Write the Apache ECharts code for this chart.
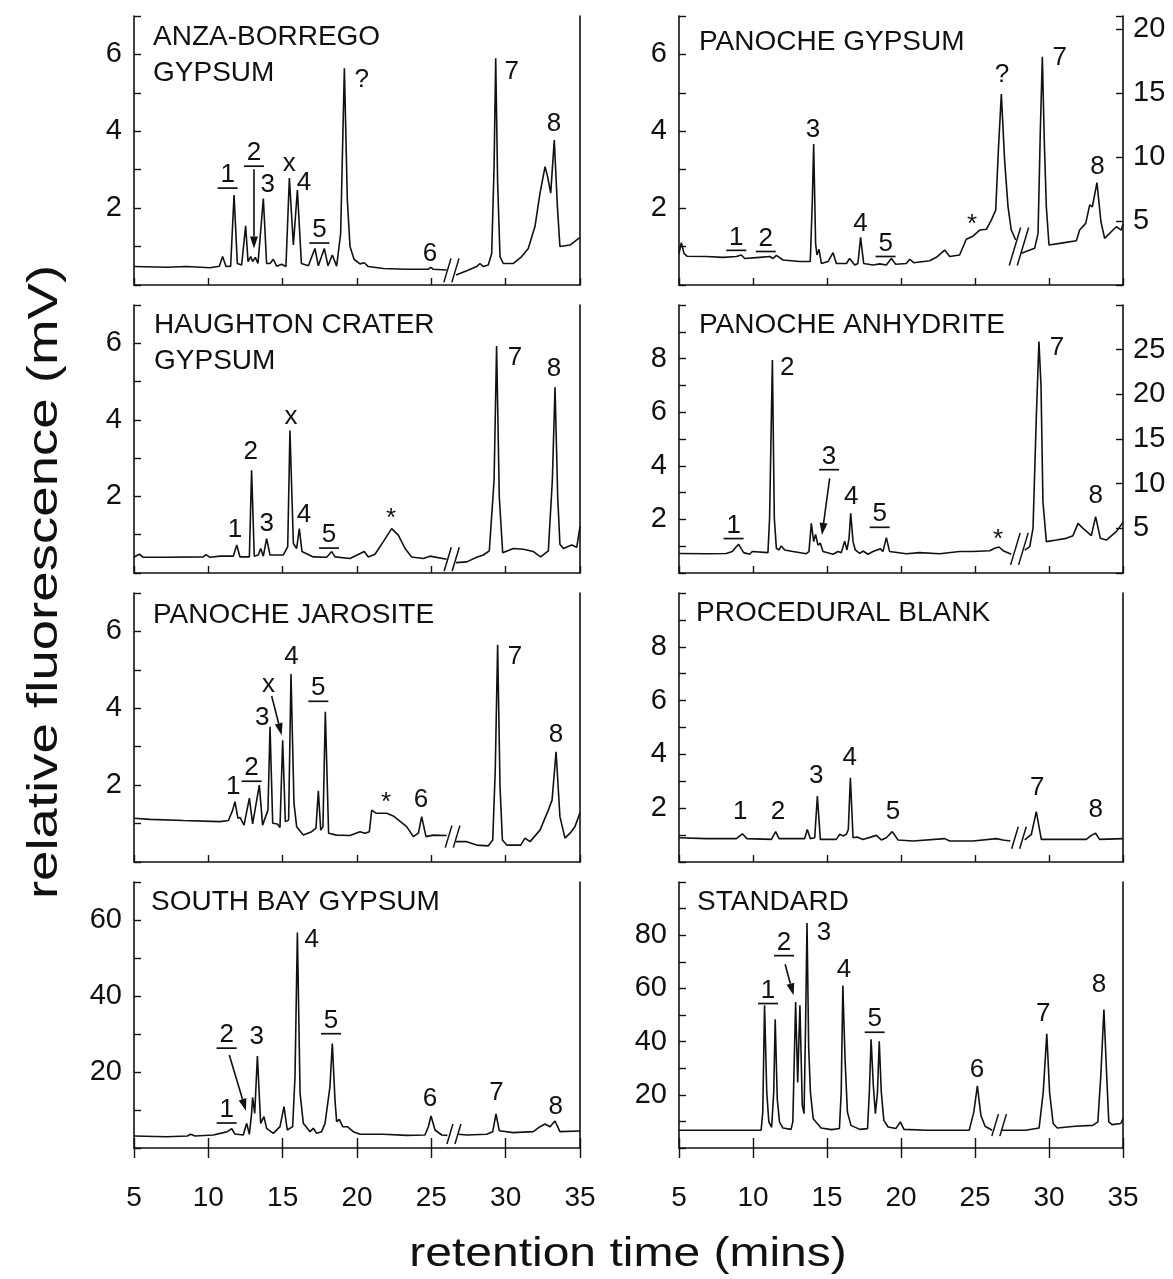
<!DOCTYPE html>
<html>
<head>
    <meta charset="utf-8">
    <title>Chromatograms</title>
    <script src="https://cdn.jsdelivr.net/npm/echarts@6/dist/echarts.min.js"></script>
    <style>
        html, body { margin: 0; padding: 0; background: #fff; }
    </style>
</head>
<body>
    <div id="main" style="width: 1173px;height:1279px;"></div>
    <script type="text/javascript">
        // traces: [retention time (min), signal]
        // the part after the // break is kept in its own array
        var anzaPre = [[5.00,0.48],[7.20,0.46],[8.54,0.48],[10.11,0.45],[10.74,0.49],[10.96,0.74],[11.19,0.48],[11.50,0.49],[11.73,2.34],[11.95,0.56],[12.24,0.52],[12.51,1.54],[12.67,0.61],[12.85,0.74],[12.98,0.61],[13.16,0.72],[13.34,0.56],[13.70,2.25],[13.92,0.56],[14.15,0.56],[14.37,0.67],[14.60,0.49],[14.93,0.54],[15.22,0.48],[15.45,2.78],[15.72,1.04],[15.99,2.47],[16.26,0.56],[16.73,0.50],[17.17,0.95],[17.40,0.50],[17.80,0.95],[18.05,0.50],[18.34,0.78],[18.63,0.49],[18.90,1.34],[19.15,5.64],[19.35,2.21],[19.53,1.00],[19.80,0.67],[20.20,0.55],[20.49,0.58],[20.76,0.48],[21.77,0.43],[23.34,0.41],[24.80,0.41],[24.96,0.46],[25.13,0.41],[26.03,0.39]];
        var anzaPost = [[26.66,0.26],[27.38,0.37],[28.05,0.48],[28.27,0.56],[28.50,0.48],[28.83,0.52],[29.06,0.82],[29.22,3.08],[29.33,5.90],[29.46,2.65],[29.62,0.74],[29.84,0.56],[30.52,0.56],[31.08,0.74],[31.52,0.95],[31.97,1.52],[32.31,2.39],[32.65,3.08],[32.82,2.82],[33.03,2.39],[33.27,3.77],[33.48,2.04],[33.65,1.00],[34.33,1.04],[35.00,1.24]];

        var haughtonPre = [[5.00,0.42],[5.36,0.49],[5.63,0.41],[7.20,0.41],[9.66,0.42],[9.84,0.48],[10.11,0.41],[10.78,0.44],[11.68,0.44],[11.91,0.73],[12.13,0.42],[12.76,0.42],[12.91,2.68],[13.09,0.44],[13.36,0.47],[13.52,0.64],[13.70,0.44],[13.92,0.90],[14.15,0.47],[15.04,0.47],[15.34,0.69],[15.49,3.72],[15.72,0.77],[15.94,0.64],[16.12,1.16],[16.30,0.56],[17.06,0.42],[17.96,0.41],[18.30,0.56],[18.52,0.42],[19.53,0.38],[20.49,0.56],[20.76,0.42],[21.21,0.49],[21.77,0.82],[22.33,1.16],[22.78,0.99],[23.23,0.64],[23.68,0.42],[24.46,0.38],[24.91,0.44],[26.03,0.36]];
        var haughtonPost = [[26.66,0.27],[27.38,0.29],[28.05,0.41],[28.50,0.47],[28.90,0.58],[29.22,2.42],[29.39,5.93],[29.57,1.99],[29.80,0.53],[30.52,0.64],[31.19,0.62],[31.86,0.56],[32.35,0.42],[32.87,0.58],[33.14,2.42],[33.32,4.85],[33.50,1.99],[33.65,0.75],[33.88,0.64],[34.44,0.73],[34.78,0.67],[35.00,1.21]];

        var jarositePre = [[5.00,1.14],[6.08,1.11],[8.32,1.08],[10.78,1.05],[11.35,1.08],[11.64,1.35],[11.79,1.57],[11.99,1.14],[12.13,1.16],[12.40,0.96],[12.76,1.66],[12.98,0.99],[13.43,2.00],[13.65,0.96],[14.01,1.35],[14.15,3.52],[14.33,1.01],[14.64,0.99],[14.82,0.90],[15.00,3.17],[15.18,1.05],[15.40,1.09],[15.56,4.89],[15.76,1.53],[15.94,0.92],[16.39,0.70],[16.95,0.79],[17.24,0.88],[17.40,1.85],[17.56,0.83],[17.71,0.92],[17.87,3.91],[18.09,0.75],[18.63,0.70],[19.53,0.69],[20.20,0.79],[20.54,0.75],[20.83,0.79],[20.99,1.35],[21.28,1.27],[22.00,1.27],[22.44,1.20],[23.34,0.92],[23.79,0.66],[24.13,0.75],[24.35,1.18],[24.64,0.66],[25.13,0.70],[26.03,0.69]];
        var jarositePost = [[26.66,0.53],[27.38,0.53],[28.05,0.44],[28.83,0.42],[29.13,0.57],[29.30,2.39],[29.46,5.65],[29.62,1.96],[29.78,0.57],[30.07,0.44],[31.01,0.44],[31.30,0.62],[31.64,0.53],[32.31,0.83],[32.87,1.35],[33.12,1.61],[33.39,2.87],[33.65,1.18],[33.99,0.62],[34.33,0.75],[34.66,0.92],[35.00,1.28]];

        var southBayPre = [[5.00,3.16],[7.20,2.98],[8.59,3.16],[8.81,3.6],[9.10,3.16],[10.34,3.42],[11.01,4.04],[11.28,4.3],[11.57,5.09],[11.79,3.68],[12.35,3.42],[12.58,6.49],[12.76,3.6],[12.91,9.12],[12.98,13.3],[13.12,9.12],[13.30,24.2],[13.52,6.49],[13.74,8.25],[13.92,5.18],[14.37,3.86],[14.82,5.61],[15.09,10.9],[15.31,4.74],[15.67,5.61],[15.83,18.8],[15.99,56.7],[16.17,14.4],[16.39,6.49],[16.84,4.3],[17.06,5.18],[17.29,3.86],[17.62,4.3],[17.85,6.49],[18.18,16.1],[18.34,27.5],[18.52,12.6],[18.63,6.93],[18.81,7.54],[19.04,5.61],[19.35,5.61],[19.75,4.3],[20.20,3.6],[21.77,3.6],[23.34,3.33],[24.57,3.42],[24.80,5.61],[24.98,8.42],[25.25,4.74],[25.70,3.42],[26.08,3.33]];
        var southBayPost = [[26.82,3.6],[27.38,3.42],[28.72,3.6],[29.13,4.3],[29.35,8.95],[29.57,4.56],[30.52,4.04],[31.86,4.3],[32.31,5.61],[32.65,6.32],[32.98,5.61],[33.32,7.11],[33.65,4.3],[35.00,4.47]];

        var panGypsumPre = [[5.00,0.82],[5.16,1.10],[5.34,0.82],[5.54,0.75],[6.85,0.74],[7.97,0.72],[8.87,0.74],[9.21,0.78],[9.44,0.69],[10.45,0.72],[11.13,0.74],[11.35,0.69],[11.58,0.77],[12.03,0.65],[13.15,0.61],[13.87,0.61],[14.01,2.21],[14.10,3.67],[14.23,1.08],[14.32,0.78],[14.46,0.93],[14.62,0.56],[15.07,0.61],[15.41,0.84],[15.63,0.56],[16.31,0.56],[16.53,0.69],[16.87,0.52],[17.09,0.56],[17.27,1.24],[17.48,0.56],[18.11,0.52],[18.56,0.55],[19.01,0.52],[19.35,0.69],[19.64,0.54],[20.36,0.56],[20.59,0.67],[20.86,0.58],[21.94,0.63],[22.39,0.72],[22.95,0.91],[23.29,0.74],[23.96,0.78],[24.41,1.19],[24.86,1.27],[25.32,1.43],[25.77,1.45],[26.10,1.69],[26.40,1.95],[26.58,3.51],[26.78,4.97],[27.00,3.25],[27.23,2.04],[27.45,1.43],[27.75,1.17]];
        // after the break this panel is read on the right-hand scale
        var panGypsumPost = [[28.13,2.47],[29.03,2.86],[29.26,4.03],[29.41,11.84],[29.55,17.82],[29.68,11.32],[29.82,6.11],[30.00,3.12],[30.72,3.25],[31.85,3.46],[32.07,4.29],[32.48,4.81],[32.75,6.25],[32.93,6.11],[33.24,7.99],[33.51,4.94],[33.76,3.64],[34.32,4.29],[34.55,4.55],[34.89,4.29],[35.00,4.76]];

        var anhydritePre = [[5.00,0.73],[6.85,0.72],[8.20,0.73],[8.60,0.80],[8.87,0.98],[9.03,1.07],[9.21,0.90],[9.37,0.76],[9.77,0.70],[9.95,0.80],[11.01,0.76],[11.12,2.04],[11.31,7.95],[11.44,2.04],[11.58,0.92],[11.76,0.86],[11.91,1.01],[12.14,0.86],[12.70,0.80],[13.60,0.72],[13.78,0.80],[13.94,1.85],[14.10,1.17],[14.23,1.44],[14.39,1.04],[14.55,1.11],[14.73,0.80],[15.41,0.70],[15.74,0.80],[15.97,0.76],[16.19,1.19],[16.35,0.86],[16.49,1.29],[16.60,2.23],[16.76,1.17],[16.91,0.86],[17.21,0.73],[17.43,0.82],[17.77,0.70],[18.11,0.80],[18.38,0.86],[18.61,0.90],[18.78,0.80],[19.01,1.32],[19.23,0.80],[20.36,0.72],[21.26,0.76],[22.61,0.72],[23.96,0.80],[24.86,0.80],[25.99,0.83],[26.33,0.92],[26.62,0.97],[26.94,0.82],[27.45,0.70]];
        var anhydritePost = [[28.36,2.57],[28.70,2.95],[28.92,5.0],[29.14,17.3],[29.32,25.9],[29.46,21.0],[29.59,8.0],[29.82,3.51],[30.50,3.69],[31.17,3.88],[31.62,4.18],[31.96,5.56],[32.30,5.0],[32.86,4.18],[33.15,6.31],[33.47,3.88],[33.87,3.69],[34.55,4.63],[35.00,5.67]];

        var blankPre = [[5.00,0.90],[6.85,0.87],[8.87,0.87],[9.28,1.05],[9.59,0.87],[11.24,0.84],[11.53,1.13],[11.76,0.87],[13.49,0.87],[13.67,1.21],[13.87,0.87],[14.17,0.90],[14.35,2.45],[14.55,0.84],[15.63,0.84],[15.86,1.03],[16.08,0.97],[16.31,1.03],[16.44,1.21],[16.58,3.13],[16.76,0.90],[17.03,0.93],[17.43,0.84],[18.33,0.99],[18.67,0.82],[19.01,0.90],[19.41,1.13],[19.80,0.82],[20.81,0.78],[22.95,0.87],[23.29,0.78],[24.86,0.78],[26.44,0.87],[26.89,0.82],[27.39,0.78]];
        var blankPost = [[28.36,0.82],[28.81,1.03],[29.14,1.87],[29.48,0.84],[30.50,0.84],[32.52,0.84],[32.86,0.99],[33.15,1.07],[33.42,0.84],[35.00,0.87]];

        var standardPre = [[5.00,6.7],[8.16,6.7],[10.55,6.7],[10.66,13.5],[10.78,53.7],[10.93,20.9],[11.07,9.8],[11.26,7.8],[11.40,20.9],[11.50,48.4],[11.64,18.4],[11.79,9.8],[12.02,7.5],[12.57,7.0],[12.69,9.8],[12.88,54.9],[13.02,24.6],[13.17,53.7],[13.33,16.0],[13.45,12.9],[13.55,45.6],[13.65,84.6],[13.76,38.2],[13.88,20.9],[14.07,11.0],[14.60,7.5],[15.31,6.9],[15.84,7.3],[15.96,20.9],[16.07,61.1],[16.22,33.3],[16.38,13.5],[16.62,8.5],[17.22,7.0],[17.74,7.3],[17.86,20.9],[17.98,40.9],[18.13,23.4],[18.27,12.9],[18.41,20.9],[18.53,40.1],[18.67,20.9],[18.84,10.4],[19.13,7.9],[19.65,7.3],[19.96,9.8],[20.20,7.0],[21.75,6.7],[24.61,6.7],[24.92,13.5],[25.16,23.4],[25.40,12.2],[25.68,8.2],[26.16,6.7]];
        var standardPost = [[26.75,6.7],[28.42,6.7],[29.33,7.5],[29.61,20.9],[29.85,42.9],[30.04,20.9],[30.28,9.2],[30.56,7.5],[31.76,8.2],[32.95,8.5],[33.30,9.8],[33.50,27.1],[33.71,52.1],[33.90,27.1],[34.04,9.8],[34.26,8.8],[34.85,9.2],[35.00,11.0]];

        // peak labels: [time, signal, text, underlined]
        var anzaLabels = [[11.30,2.86,'1',1],[13.07,3.43,'2',1],[13.99,2.60,'3',0],[15.45,3.15,'x',0],[16.43,2.65,'4',0],[17.47,1.43,'5',1],[20.31,5.33,'?',0],[24.91,0.82,'6',0],[30.40,5.55,'7',0],[33.25,4.20,'8',0]];
        var haughtonLabels = [[11.79,1.12,'1',0],[12.85,3.16,'2',0],[13.92,1.29,'3',0],[15.56,4.08,'x',0],[16.43,1.51,'4',0],[18.12,0.99,'5',1],[22.29,1.42,'*',0],[30.63,5.63,'7',0],[33.25,5.33,'8',0]];
        var jarositeLabels = [[11.68,1.96,'1',0],[12.91,2.44,'2',1],[13.63,3.74,'3',0],[14.04,4.60,'x',0],[15.60,5.34,'4',0],[17.40,4.52,'5',1],[21.95,1.54,'*',0],[24.30,1.61,'6',0],[30.63,5.33,'7',0],[33.39,3.30,'8',0]];
        var southBayLabels = [[11.23,10.0,'1',1],[11.23,29.7,'2',1],[13.25,29.3,'3',0],[16.95,54.7,'4',0],[18.25,33.5,'5',1],[24.91,13.0,'6',0],[29.39,14.4,'7',0],[33.36,10.9,'8',0]];
        var panGypsumLabels = [[8.87,1.24,'1',1],[10.86,1.21,'2',1],[14.05,4.05,'3',0],[17.27,1.59,'4',0],[18.96,1.08,'5',1],[24.80,1.56,'*',0],[26.82,5.46,'?',0],[30.72,5.90,'7',0],[33.27,3.08,'8',0]];
        var anhydriteLabels = [[8.69,1.77,'1',1],[12.32,7.66,'2',0],[15.14,4.34,'3',1],[16.64,2.85,'4',0],[18.56,2.19,'5',1],[26.55,1.23,'*',0],[30.54,8.42,'7',0],[33.15,2.89,'8',0]];
        var blankLabels = [[9.14,1.86,'1',0],[11.69,1.86,'2',0],[14.28,3.22,'3',0],[16.53,3.88,'4',0],[19.46,1.86,'5',0],[29.21,2.76,'7',0],[33.15,1.93,'8',0]];
        var standardLabels = [[11.02,59.2,'1',1],[12.10,77.2,'2',1],[14.79,80.9,'3',0],[16.15,66.9,'4',0],[18.22,48.4,'5',1],[25.13,29.3,'6',0],[29.61,50.6,'7',0],[33.38,61.5,'8',0]];

        // arrows: [from time, from signal, to time, to signal]
        var anzaArrows = [[13.07,3.01,13.07,0.95]];
        var jarositeArrows = [[14.26,4.32,14.93,3.30]];
        var southBayArrows = [[11.41,24.5,12.53,9.8]];
        var anhydriteArrows = [[15.18,3.53,14.66,1.42]];
        var standardArrows = [[12.17,69.1,12.74,57.4]];

        // where the // break sits: [time, signal]
        var breakAt = [[26.35,0.38],[26.37,0.36],[26.43,0.66],[26.52,3.7],[27.97,1.0],[28.0,0.9],[27.97,0.9],[26.63,8.6]];

        var INK = '#111';
        var FONT = '"Liberation Sans", Arial, Helvetica, sans-serif';

        var panels = [
            {box: [134, 16, 446, 269], yMax: 7, yInt: 1, title: 'ANZA-BORREGO\nGYPSUM', tl: [153, 19], pre: anzaPre, post: anzaPost, labels: anzaLabels, arrows: anzaArrows, slash: 24},
            {box: [134, 305, 446, 268], yMax: 7, yInt: 1, title: 'HAUGHTON CRATER\nGYPSUM', tl: [154, 307], pre: haughtonPre, post: haughtonPost, labels: haughtonLabels, arrows: [], slash: 24},
            {box: [134, 593, 446, 269], yMax: 7, yInt: 1, title: 'PANOCHE JAROSITE', tl: [153, 597], pre: jarositePre, post: jarositePost, labels: jarositeLabels, arrows: jarositeArrows, slash: 22},
            {box: [134, 882, 446, 266], yMax: 70, yInt: 10, title: 'SOUTH BAY GYPSUM', tl: [151, 884], pre: southBayPre, post: southBayPost, labels: southBayLabels, arrows: southBayArrows, slash: 20, bottom: true},
            {box: [679, 16, 444, 269], yMax: 7, yInt: 1, rMax: 21, title: 'PANOCHE GYPSUM', tl: [699, 24], pre: panGypsumPre, post: panGypsumPost, labels: panGypsumLabels, arrows: [], slash: 38},
            {box: [679, 305, 444, 268], yMax: 10, yInt: 1, rMax: 30, title: 'PANOCHE ANHYDRITE', tl: [699, 307], pre: anhydritePre, post: anhydritePost, labels: anhydriteLabels, arrows: anhydriteArrows, slash: 32},
            {box: [679, 593, 444, 269], yMax: 10, yInt: 1, title: 'PROCEDURAL BLANK', tl: [696, 595], pre: blankPre, post: blankPost, labels: blankLabels, arrows: [], slash: 22},
            {box: [679, 882, 444, 266], yMax: 100, yInt: 10, title: 'STANDARD', tl: [697, 884], pre: standardPre, post: standardPost, labels: standardLabels, arrows: standardArrows, slash: 22, bottom: true}
        ];

        var myChart = echarts.init(document.getElementById('main'));

        var grids = [], xAxes = [], yAxes = [], series = [], titles = [];
        var axisLine = {show: true, onZero: false, lineStyle: {color: INK, width: 1.6}};

        panels.forEach(function (p, i) {
            grids.push({left: p.box[0], top: p.box[1], width: p.box[2], height: p.box[3]});
            titles.push({
                text: p.title, left: p.tl[0], top: p.tl[1], padding: 0,
                textStyle: {fontSize: 28, fontWeight: 'normal', color: INK, fontFamily: FONT, lineHeight: 36}
            });

            var xi = xAxes.length;
            xAxes.push({
                gridIndex: i, type: 'value', min: 5, max: 35, interval: 5, position: 'bottom',
                axisLine: axisLine,
                axisTick: {inside: !p.bottom, length: p.bottom ? 10 : 7, lineStyle: {color: INK, width: 1.4}},
                axisLabel: {show: !!p.bottom, fontSize: 28, color: INK, fontFamily: FONT, margin: 36},
                splitLine: {show: false}
            });
            if (p.bottom) {
                // second copy only for the inward half of the crossing ticks
                xAxes.push({
                    gridIndex: i, type: 'value', min: 5, max: 35, interval: 5, position: 'bottom',
                    axisLine: {show: false}, axisLabel: {show: false}, splitLine: {show: false},
                    axisTick: {inside: true, length: 10, lineStyle: {color: INK, width: 1.4}}
                });
            }

            var yi = yAxes.length;
            yAxes.push({
                gridIndex: i, type: 'value', min: 0, max: p.yMax, interval: p.yInt, position: 'left',
                axisLine: axisLine,
                axisTick: {inside: true, length: 7, lineStyle: {color: INK, width: 1.4}},
                axisLabel: {
                    fontSize: 29, color: INK, fontFamily: FONT, margin: 12,
                    formatter: function (v) {
                        return (v > 0 && v < p.yMax && v % (2 * p.yInt) === 0) ? String(v) : '';
                    }
                },
                splitLine: {show: false}
            });
            yAxes.push({
                gridIndex: i, type: 'value', min: 0, max: p.rMax || 1, interval: p.rMax ? 5 : 1, position: 'right',
                axisLine: axisLine,
                axisTick: {show: !!p.rMax, inside: true, length: 7, lineStyle: {color: INK, width: 1.4}},
                axisLabel: {
                    show: !!p.rMax, fontSize: 29, color: INK, fontFamily: FONT, margin: 10,
                    formatter: function (v) { return (v > 0 && v < p.rMax) ? String(v) : ''; }
                },
                splitLine: {show: false}
            });

            var trace = {type: 'line', xAxisIndex: xi, showSymbol: false, symbol: 'none', silent: true,
                lineStyle: {color: INK, width: 1.6}};
            series.push(Object.assign({}, trace, {yAxisIndex: yi, data: p.pre}));
            series.push(Object.assign({}, trace, {yAxisIndex: p.rMax ? yi + 1 : yi, data: p.post}));

            // the // break mark
            series.push({
                type: 'custom', coordinateSystem: 'cartesian2d', xAxisIndex: xi, yAxisIndex: yi, silent: true,
                data: [breakAt[i]],
                renderItem: function (params, api) {
                    var c = api.coord([api.value(0), api.value(1)]);
                    var h = p.slash, w = h * 0.3;
                    return {type: 'group', children: [-4, 4].map(function (dx) {
                        return {type: 'line', shape: {x1: c[0] + dx - w / 2, y1: c[1] + h / 2, x2: c[0] + dx + w / 2, y2: c[1] - h / 2},
                            style: {stroke: INK, lineWidth: 1.5}};
                    })};
                }
            });

            // peak labels
            series.push({
                type: 'custom', coordinateSystem: 'cartesian2d', xAxisIndex: xi, yAxisIndex: yi, silent: true,
                data: p.labels.map(function (a) { return [a[0], a[1]]; }),
                renderItem: function (params, api) {
                    var a = p.labels[params.dataIndex];
                    var c = api.coord([a[0], a[1]]);
                    var kids = [{type: 'text', x: c[0], y: c[1],
                        style: {text: a[2], fill: INK, font: '26px ' + FONT, align: 'center', verticalAlign: 'middle'}}];
                    if (a[3]) {
                        kids.push({type: 'line', shape: {x1: c[0] - 10, y1: c[1] + 13, x2: c[0] + 10, y2: c[1] + 13},
                            style: {stroke: INK, lineWidth: 1.7}});
                    }
                    return {type: 'group', children: kids};
                }
            });

            if (p.arrows.length) {
                series.push({
                    type: 'custom', coordinateSystem: 'cartesian2d', xAxisIndex: xi, yAxisIndex: yi, silent: true,
                    encode: {x: [0, 2], y: [1, 3]},
                    data: p.arrows,
                    renderItem: function (params, api) {
                        var a = api.coord([api.value(0), api.value(1)]);
                        var b = api.coord([api.value(2), api.value(3)]);
                        var dx = b[0] - a[0], dy = b[1] - a[1], L = Math.sqrt(dx * dx + dy * dy);
                        var ux = dx / L, uy = dy / L, hl = 12, hw = 4;
                        var bx = b[0] - ux * hl, by = b[1] - uy * hl;
                        return {type: 'group', children: [
                            {type: 'line', shape: {x1: a[0], y1: a[1], x2: bx, y2: by}, style: {stroke: INK, lineWidth: 1.6}},
                            {type: 'polygon', shape: {points: [[b[0], b[1]], [bx - uy * hw, by + ux * hw], [bx + uy * hw, by - ux * hw]]},
                                style: {fill: INK}}
                        ]};
                    }
                });
            }
        });

        myChart.setOption({
            animation: false,
            backgroundColor: '#fff',
            title: titles,
            grid: grids,
            xAxis: xAxes,
            yAxis: yAxes,
            series: series,
            graphic: [
                {type: 'text', x: 45, y: 582, rotation: Math.PI / 2, scaleX: 1.3,
                    style: {text: 'relative fluorescence (mV)', font: '42px ' + FONT, fill: INK, align: 'center', verticalAlign: 'middle'}},
                {type: 'text', x: 628, y: 1255, scaleX: 1.2,
                    style: {text: 'retention time (mins)', font: '40px ' + FONT, fill: INK, align: 'center', verticalAlign: 'middle'}}
            ]
        });
    </script>
</body>
</html>
